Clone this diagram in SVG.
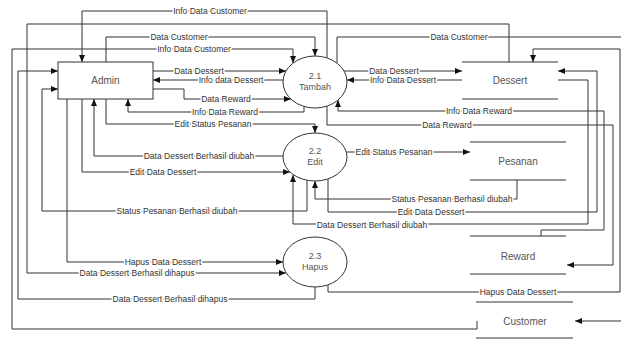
<svg xmlns="http://www.w3.org/2000/svg" width="621" height="340" viewBox="0 0 621 340">
<style>
.ln{fill:none;stroke:#333;stroke-width:1;marker-end:url(#ah)}
.lb{font-family:"Liberation Sans",Arial,sans-serif;font-size:8.5px;fill:#333;text-anchor:middle;dominant-baseline:central;stroke:#fff;stroke-width:3px;paint-order:stroke;stroke-linejoin:round}
.nt{font-family:"Liberation Sans",Arial,sans-serif;font-size:10px;fill:#555;text-anchor:middle;dominant-baseline:central}
.box{fill:#fff;stroke:#333;stroke-width:1}
.ds{stroke:#333;stroke-width:1}
</style>
<defs>
<marker id="ah" markerUnits="userSpaceOnUse" markerWidth="7" markerHeight="6" refX="7" refY="3" orient="auto"><path d="M0,0 L7,3 L0,6 z" fill="#111"/></marker>
</defs>
<rect width="621" height="340" fill="#fff"/>
<g id="connectors">
<polyline class="ln" points="327,58 327,11 82,11 82,62"/>
<polyline class="ln" points="106,62 106,37 315,37 315,56"/>
<polyline class="ln" points="477,321 477,329 12,329 12,49 293,49 293,63"/>
<polyline class="ln" points="509,62 509,24 27,24 27,273 286,273"/>
<polyline class="ln" points="315,287 315,299 18,299 18,71 58,71"/>
<polyline class="ln" points="153,71 286,71"/>
<polyline class="ln" points="283,80 153,80"/>
<polyline class="ln" points="153,89 184,89 184,99 291,99"/>
<polyline class="ln" points="304,106 304,112 128,112 128,99"/>
<polyline class="ln" points="106,99 106,124 315,124 315,133"/>
<polyline class="ln" points="283,156 94,156 94,99"/>
<polyline class="ln" points="82,99 82,172 290,172"/>
<polyline class="ln" points="307,180 307,211 42,211 42,89 58,89"/>
<polyline class="ln" points="67,99 67,262 283,262"/>
<polyline class="ln" points="337,63 337,37 624,37 624,321 575,321"/>
<polyline class="ln" points="344,71 462,71"/>
<polyline class="ln" points="462,80 347,80"/>
<polyline class="ln" points="541,236 541,230 604,230 604,111 338,111 338,100"/>
<polyline class="ln" points="327,106 327,125 613,125 613,265 567,265"/>
<polyline class="ln" points="346,152 470,152"/>
<polyline class="ln" points="517,180 517,199 315,199 315,181"/>
<polyline class="ln" points="328,179 328,212 597,212 597,71 558,71"/>
<polyline class="ln" points="558,80 588,80 588,224 293,224 293,175"/>
<polyline class="ln" points="328,285 328,292 620,292 620,49 533,49 533,62"/>
<text class="lb" x="210" y="11">Info Data Customer</text>
<text class="lb" x="179" y="37">Data Customer</text>
<text class="lb" x="194" y="49">Info Data Customer</text>
<text class="lb" x="199" y="71">Data Dessert</text>
<text class="lb" x="231" y="80">Info data Dessert</text>
<text class="lb" x="226" y="99">Data Reward</text>
<text class="lb" x="225" y="112">Info Data Reward</text>
<text class="lb" x="213" y="124">Edit Status Pesanan</text>
<text class="lb" x="199" y="156">Data Dessert Berhasil diubah</text>
<text class="lb" x="163" y="172">Edit Data Dessert</text>
<text class="lb" x="177" y="211">Status Pesanan Berhasil diubah</text>
<text class="lb" x="163" y="262">Hapus Data Dessert</text>
<text class="lb" x="137" y="273">Data Dessert Berhasil dihapus</text>
<text class="lb" x="170" y="299">Data Dessert Berhasil dihapus</text>
<text class="lb" x="459" y="37">Data Customer</text>
<text class="lb" x="394" y="71">Data Dessert</text>
<text class="lb" x="403" y="80">Info Data Dessert</text>
<text class="lb" x="479" y="111">Info Data Reward</text>
<text class="lb" x="447" y="125">Data Reward</text>
<text class="lb" x="394" y="152">Edit Status Pesanan</text>
<text class="lb" x="452" y="199">Status Pesanan Berhasil diubah</text>
<text class="lb" x="431" y="212">Edit Data Dessert</text>
<text class="lb" x="372" y="225">Data Dessert Berhasil diubah</text>
<text class="lb" x="518" y="292">Hapus Data Dessert</text>
</g>
<g id="admin">
<rect class="box" x="58" y="62" width="95" height="37"/>
<text class="nt" x="105.5" y="80.5">Admin</text>
</g>
<g id="p21">
<ellipse class="box" cx="315" cy="82" rx="32" ry="26"/>
<text class="nt" x="315" y="76" style="font-size:9px">2.1</text>
<text class="nt" x="315" y="87" style="font-size:9px">Tambah</text>
</g>
<g id="p22">
<ellipse class="box" cx="315" cy="157" rx="32" ry="24"/>
<text class="nt" x="315" y="151" style="font-size:9px">2.2</text>
<text class="nt" x="315" y="162" style="font-size:9px">Edit</text>
</g>
<g id="p23">
<ellipse class="box" cx="315" cy="262" rx="32" ry="25"/>
<text class="nt" x="315" y="256" style="font-size:9px">2.3</text>
<text class="nt" x="315" y="267" style="font-size:9px">Hapus</text>
</g>
<g id="dessert">
<line class="ds" x1="462" y1="62" x2="558" y2="62"/>
<line class="ds" x1="462" y1="99" x2="558" y2="99"/>
<text class="nt" x="510" y="80.5">Dessert</text>
</g>
<g id="pesanan">
<line class="ds" x1="470" y1="142" x2="566" y2="142"/>
<line class="ds" x1="470" y1="180" x2="566" y2="180"/>
<text class="nt" x="518" y="161">Pesanan</text>
</g>
<g id="reward">
<line class="ds" x1="470" y1="236" x2="566" y2="236"/>
<line class="ds" x1="470" y1="274" x2="566" y2="274"/>
<text class="nt" x="518" y="256">Reward</text>
</g>
<g id="customer">
<line class="ds" x1="476" y1="302" x2="573" y2="302"/>
<line class="ds" x1="476" y1="338" x2="573" y2="338"/>
<text class="nt" x="525" y="321">Customer</text>
</g>
</svg>
